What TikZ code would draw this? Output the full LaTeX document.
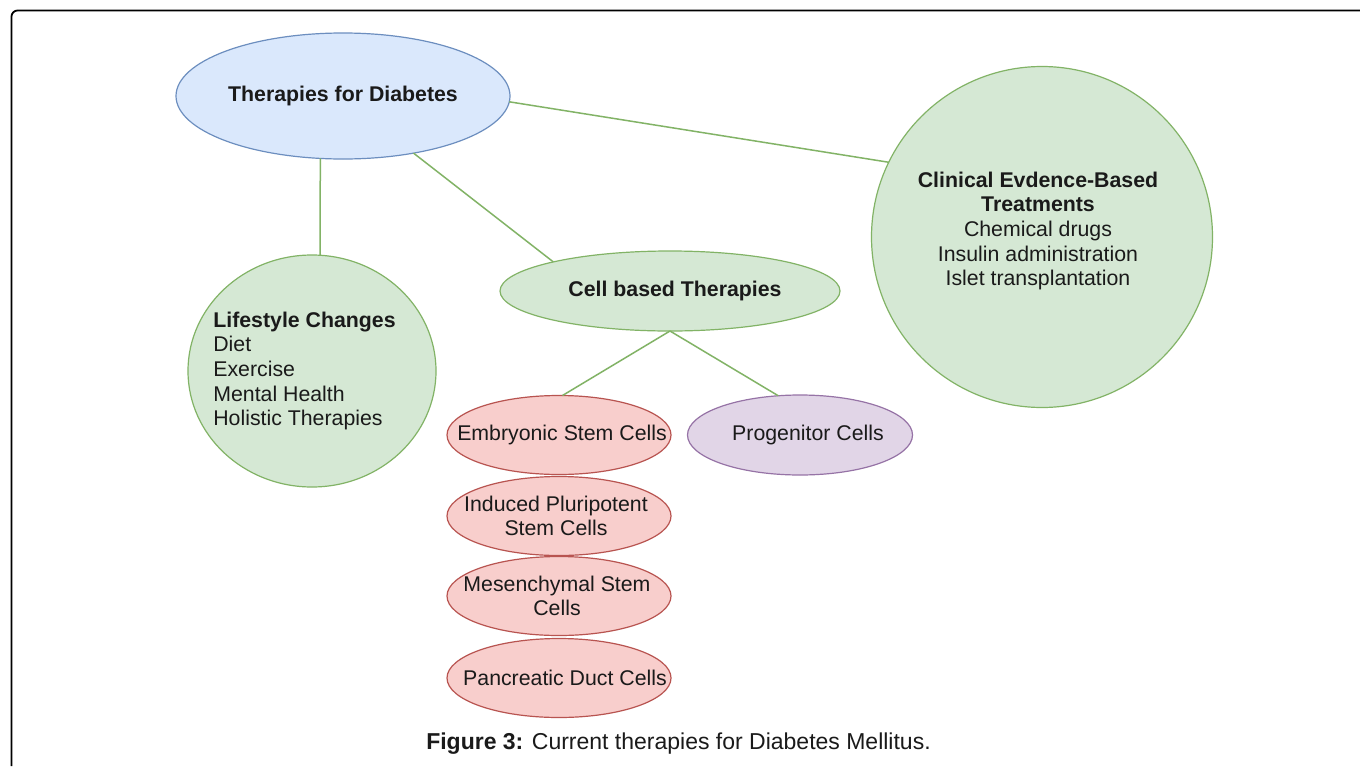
\documentclass[tikz,border=0pt]{standalone}
\usepackage{fontspec}
\setmainfont{Liberation Sans}
\usetikzlibrary{shapes.geometric}
\definecolor{bfill}{HTML}{DAE8FC}
\definecolor{bdraw}{HTML}{6C8EBF}
\definecolor{gfill}{HTML}{D5E8D4}
\definecolor{gdraw}{HTML}{82B366}
\definecolor{rfill}{HTML}{F8CECC}
\definecolor{rdraw}{HTML}{B85450}
\definecolor{pfill}{HTML}{E1D5E7}
\definecolor{pdraw}{HTML}{9673A6}
\definecolor{txt}{HTML}{1A1A1A}
\tikzset{
  shp/.style={ellipse, draw, line width=1.2pt, inner sep=0pt, outer sep=0pt},
  blueS/.style={shp, fill=bfill, draw=bdraw},
  greenS/.style={shp, fill=gfill, draw=gdraw},
  redS/.style={shp, fill=rfill, draw=rdraw, minimum width=224, minimum height=79},
  purpleS/.style={shp, fill=pfill, draw=pdraw},
  link/.style={draw=gdraw, line width=1.5pt}
}
\begin{document}
\begin{tikzpicture}[x=1pt,y=-1pt,
  every node/.style={font=\fontsize{21.3}{24.6}\selectfont, text=txt}]
\useasboundingbox (0,0) rectangle (1360,766);
\fill[white] (0,0) rectangle (1360,766);
\draw[line width=1.8pt, rounded corners=6pt] (11.5,766) -- (11.5,10.5) -- (1360,10.5);

\node[blueS, minimum width=334, minimum height=126,
  label={center:\textbf{Therapies for Diabetes}}] (T) at (343,96) {};
\node[greenS, minimum width=248, minimum height=232,
  label={[align=left, xshift=-7.5]center:{\textbf{Lifestyle Changes}\\Diet\\Exercise\\Mental Health\\Holistic Therapies}}] (L) at (312,371) {};
\node[greenS, minimum width=341, minimum height=341,
  label={[align=center, xshift=-4, yshift=6]center:{\textbf{Clinical Evdence-Based}\\\textbf{Treatments}\\Chemical drugs\\Insulin administration\\Islet transplantation}}] (K) at (1042,237) {};
\node[greenS, minimum width=340, minimum height=80,
  label={[xshift=5]center:\textbf{Cell based Therapies}}] (C) at (670,291) {};
\node[redS, label={[xshift=3]center:Embryonic Stem Cells}] (E) at (559,435) {};
\node[purpleS, minimum width=225, minimum height=80,
  label={[xshift=8]center:Progenitor Cells}] (P) at (800,435) {};
\node[redS, label={[align=center, xshift=-3]center:{Induced Pluripotent\\Stem Cells}}] (I) at (559,516) {};
\node[redS, label={[align=center, xshift=-2]center:{Mesenchymal Stem\\Cells}}] (M) at (559,596) {};
\node[redS, label={[xshift=6]center:Pancreatic Duct Cells}] (D) at (559,678) {};

\draw[link] (T.250) -- (L.86);
\draw[link] (T.321) -- (C.166);
\draw[link] (T.358) -- (K.154);
\draw[link] (C.south) -- (E.85);
\draw[link] (C.south) -- (P.119);

\node (cap) at (678.5,744) {\fontsize{23}{27}\selectfont\textbf{Figure 3:} Current therapies for Diabetes Mellitus.};
\end{tikzpicture}
\end{document}
